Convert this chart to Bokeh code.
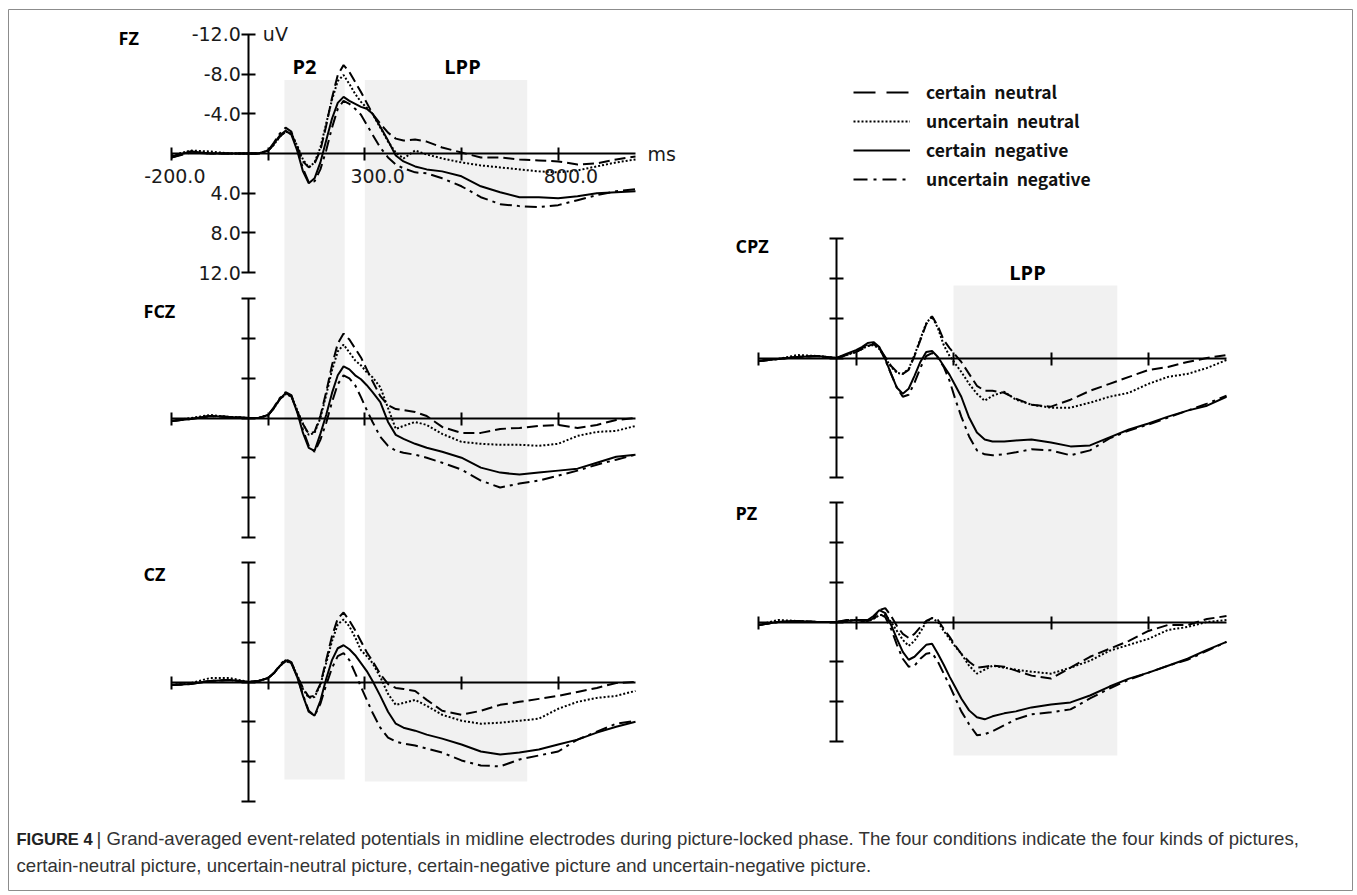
from bokeh.plotting import figure
from bokeh.models import Range1d, LinearAxis, FixedTicker, Legend, LegendItem, CustomJSTickFormatter
from bokeh.core.properties import value
from bokeh.embed import file_html
from bokeh.resources import INLINE

# ---------------- data ----------------
TIME = [-200, -150, -100, -50, 0, 25, 50, 65, 80, 95, 110, 125, 140, 155, 170, 185, 200, 215, 230, 245,
        260, 275, 290, 305, 320, 340, 360, 380, 400, 430, 460, 500, 550, 600, 650, 700, 750, 800, 850, 900,
        950, 1000]

CONDITIONS = ["certain  neutral", "uncertain  neutral", "certain  negative", "uncertain  negative"]
PANELS = ["FZ", "FCZ", "CZ", "CPZ", "PZ"]

FZ_CN = [0.4, -0.2, 0.0, 0.0, 0.0, 0.0, -0.3, -0.9, -1.7, -2.2, -2.0, -0.7, 0.8, 1.4, 1.0, -0.3, -2.8, -5.6, -7.9, -8.9,
         -8.2, -7.2, -6.2, -5.1, -4.0, -3.0, -2.1, -1.5, -1.3, -1.4, -1.2, -0.6, -0.1, 0.4, 0.4, 0.6, 0.7, 0.8, 1.1, 1.0, 0.6, 0.3]
FZ_UN = [0.2, -0.3, -0.2, 0.0, 0.0, 0.0, -0.3, -0.9, -1.7, -2.2, -2.0, -0.8, 0.6, 1.4, 0.9, -0.6, -3.0, -5.4, -7.3, -7.9,
         -7.0, -6.0, -5.2, -4.6, -4.0, -2.6, -1.2, -0.1, 0.5, -0.3, 0.1, 0.5, 0.9, 1.2, 1.4, 1.6, 1.8, 1.9, 1.7, 1.3, 0.9, 0.6]
FZ_CG = [0.3, -0.2, 0.0, 0.0, 0.0, 0.0, -0.3, -1.0, -1.8, -2.3, -1.9, -0.3, 1.8, 3.0, 2.5, 0.9, -1.3, -3.5, -5.1, -5.7,
         -5.3, -5.0, -4.7, -4.5, -4.0, -2.7, -1.3, 0.2, 0.8, 1.3, 1.6, 1.8, 2.3, 3.3, 3.9, 4.4, 4.4, 4.5, 4.3, 4.0, 3.9, 3.8]
FZ_UG = [0.4, -0.1, 0.0, 0.0, 0.0, 0.0, -0.3, -1.1, -2.0, -2.6, -2.2, -0.5, 1.5, 2.9, 2.8, 1.6, -0.3, -2.6, -4.5, -5.3,
         -5.0, -4.5, -3.9, -2.9, -1.9, -0.6, 0.4, 1.1, 1.5, 1.9, 2.0, 2.5, 3.3, 4.4, 5.1, 5.3, 5.4, 5.2, 4.7, 4.2, 3.8, 3.6]

FCZ_CN = [0.3, 0.1, -0.2, -0.1, 0.0, 0.0, -0.3, -1.0, -1.9, -2.4, -2.2, -0.7, 0.6, 1.6, 1.4, -0.2, -2.6, -5.3, -7.5, -8.5,
          -7.9, -7.0, -6.1, -4.9, -3.7, -2.2, -1.3, -0.9, -0.8, -0.6, -0.2, 0.9, 1.5, 1.5, 1.1, 1.0, 0.8, 0.7, 1.0, 0.7, 0.2, 0.0]
FCZ_UN = [0.3, 0.0, -0.3, -0.1, 0.0, 0.0, -0.3, -1.0, -1.9, -2.4, -2.2, -0.8, 0.6, 1.7, 1.5, 0.0, -2.3, -4.8, -6.7, -7.4,
          -6.6, -5.8, -5.3, -4.6, -4.1, -3.1, -1.0, 1.1, 0.8, 0.4, 0.7, 1.6, 2.4, 2.6, 2.7, 2.7, 2.8, 2.6, 1.8, 1.4, 1.3, 0.8]
FCZ_CG = [0.3, 0.1, -0.2, -0.1, 0.0, 0.0, -0.3, -1.0, -1.9, -2.5, -2.2, -0.6, 1.5, 3.0, 3.3, 1.6, -0.3, -2.5, -4.3, -5.2,
          -4.9, -4.3, -3.9, -3.3, -2.6, -1.6, 0.4, 1.7, 2.1, 2.6, 3.0, 3.4, 4.0, 5.0, 5.5, 5.7, 5.5, 5.3, 5.1, 4.5, 3.9, 3.7]
FCZ_UG = [0.3, 0.1, -0.2, -0.1, 0.0, 0.0, -0.3, -1.1, -2.0, -2.6, -2.3, -0.7, 1.2, 2.8, 3.4, 2.2, 0.5, -1.6, -3.4, -4.3,
          -4.0, -3.3, -2.1, -0.8, 0.4, 1.9, 2.8, 3.3, 3.5, 3.7, 4.0, 4.5, 5.2, 6.3, 7.0, 6.6, 6.3, 5.8, 5.3, 4.7, 4.2, 3.7]

CZ_CN = [0.3, 0.2, -0.1, -0.2, 0.0, -0.1, -0.4, -0.9, -1.6, -2.1, -1.9, -0.6, 0.6, 1.5, 1.4, 0.2, -2.2, -4.6, -6.4, -7.0,
         -6.2, -5.2, -4.1, -3.0, -2.1, -0.8, 0.2, 0.6, 0.7, 0.9, 1.8, 2.9, 3.3, 2.9, 2.3, 2.0, 1.7, 1.4, 1.0, 0.6, 0.1, 0.0]
CZ_UN = [0.3, 0.1, -0.4, -0.4, 0.0, -0.1, -0.4, -0.9, -1.6, -2.1, -1.9, -0.7, 0.7, 1.6, 1.5, 0.3, -1.9, -4.1, -5.8, -6.3,
         -5.6, -4.5, -3.2, -2.6, -1.9, -0.5, 1.2, 2.3, 2.1, 1.8, 2.4, 3.3, 3.9, 4.2, 4.1, 3.9, 3.7, 2.7, 2.0, 1.6, 1.4, 0.9]
CZ_CG = [0.3, 0.2, -0.1, -0.2, 0.0, -0.1, -0.4, -0.9, -1.6, -2.2, -1.9, -0.5, 1.4, 3.0, 3.4, 1.9, -0.3, -2.2, -3.4, -3.7,
         -3.3, -2.7, -1.9, -1.1, -0.1, 1.4, 3.0, 4.2, 4.6, 4.9, 5.3, 5.7, 6.3, 7.0, 7.3, 7.1, 6.8, 6.3, 5.8, 5.1, 4.5, 4.0]
CZ_UG = [0.3, 0.2, -0.1, -0.2, 0.0, -0.1, -0.4, -0.9, -1.7, -2.3, -2.0, -0.6, 1.3, 2.9, 3.4, 2.2, 0.3, -1.4, -2.6, -2.9,
         -2.2, -0.9, 0.5, 1.8, 3.1, 4.6, 5.6, 6.0, 6.2, 6.4, 6.7, 7.1, 7.9, 8.4, 8.5, 7.8, 7.4, 7.0, 5.8, 5.0, 4.2, 3.9]

CPZ_CN = [0.3, 0.1, -0.1, -0.2, 0.0, -0.3, -0.6, -0.9, -1.2, -1.4, -1.0, -0.1, 0.8, 1.4, 1.6, 1.2, -0.2, -1.8, -3.4, -4.2,
          -3.2, -1.8, -1.0, -0.3, 0.4, 1.6, 2.8, 3.3, 3.3, 3.5, 4.1, 4.7, 4.9, 4.2, 3.3, 2.6, 1.9, 1.2, 0.9, 0.4, 0.0, -0.3]
CPZ_UN = [0.3, 0.1, -0.3, -0.2, 0.0, -0.3, -0.6, -0.9, -1.2, -1.3, -0.9, 0.0, 0.9, 1.5, 1.6, 1.1, -0.3, -1.9, -3.5, -4.2,
          -3.0, -1.3, -0.2, 0.6, 1.4, 2.6, 3.6, 4.3, 3.8, 3.4, 4.2, 4.7, 5.0, 5.0, 4.5, 3.9, 3.5, 2.6, 1.9, 1.6, 1.0, 0.2]
CPZ_CG = [0.3, 0.1, -0.1, -0.2, 0.0, -0.4, -0.8, -1.1, -1.5, -1.6, -1.1, 0.1, 1.6, 3.0, 3.6, 3.1, 1.8, 0.4, -0.6, -0.7,
          -0.1, 0.8, 1.7, 2.8, 3.9, 6.0, 7.5, 8.2, 8.4, 8.4, 8.3, 8.2, 8.5, 8.9, 8.8, 8.0, 7.2, 6.6, 5.9, 5.3, 4.8, 3.9]
CPZ_UG = [0.3, 0.1, -0.1, -0.2, 0.0, -0.3, -0.7, -1.0, -1.4, -1.5, -1.0, 0.2, 1.6, 3.0, 3.9, 3.7, 2.5, 1.0, -0.2, -0.5,
          0.0, 0.9, 2.3, 4.2, 5.9, 7.9, 9.3, 9.7, 9.8, 9.7, 9.5, 9.2, 9.3, 9.8, 9.3, 8.1, 7.3, 6.7, 6.0, 5.3, 4.6, 3.8]

PZ_CN = [0.3, 0.0, -0.1, 0.0, 0.0, -0.2, -0.2, -0.1, 0.0, -0.4, -1.2, -1.4, -0.6, 0.4, 1.2, 1.6, 1.2, 0.5, -0.1, -0.4,
         -0.2, 0.7, 1.5, 2.4, 3.2, 4.0, 4.6, 4.5, 4.4, 4.5, 4.9, 5.4, 5.7, 4.6, 3.5, 2.7, 1.9, 0.9, 0.3, 0.3, -0.3, -0.6]
PZ_UN = [0.3, -0.2, -0.1, 0.0, 0.0, -0.1, -0.2, -0.2, -0.1, -0.3, -0.7, -0.7, 0.0, 0.9, 1.8, 2.4, 1.9, 1.0, 0.0, -0.4,
         0.0, 0.9, 1.7, 2.5, 3.2, 4.4, 5.2, 4.8, 4.4, 4.6, 4.8, 5.0, 5.2, 4.6, 3.9, 2.9, 2.3, 1.7, 0.8, 0.5, 0.0, -0.2]
PZ_CG = [0.3, 0.0, -0.1, 0.0, 0.0, -0.1, -0.2, -0.2, -0.2, -0.6, -1.2, -0.9, 0.3, 1.7, 3.0, 3.8, 3.5, 2.9, 2.3, 2.2,
         3.2, 4.3, 5.5, 6.6, 7.7, 8.9, 9.6, 9.8, 9.5, 9.2, 9.0, 8.6, 8.3, 8.1, 7.4, 6.5, 5.7, 5.1, 4.4, 3.7, 2.8, 2.0]
PZ_UG = [0.3, 0.0, -0.1, 0.0, 0.0, -0.1, -0.2, -0.2, -0.1, -0.3, -0.8, -0.5, 0.7, 2.3, 3.7, 4.5, 4.4, 3.7, 3.2, 3.1,
         4.0, 5.2, 6.4, 7.7, 9.0, 10.3, 11.4, 11.3, 11.0, 10.4, 9.8, 9.3, 9.1, 8.8, 7.7, 6.7, 5.8, 5.1, 4.4, 3.8, 2.9, 2.0]

SERIES = {
    "FZ": [FZ_CN, FZ_UN, FZ_CG, FZ_UG],
    "FCZ": [FCZ_CN, FCZ_UN, FCZ_CG, FCZ_UG],
    "CZ": [CZ_CN, CZ_UN, CZ_CG, CZ_UG],
    "CPZ": [CPZ_CN, CPZ_UN, CPZ_CG, CPZ_UG],
    "PZ": [PZ_CN, PZ_UN, PZ_CG, PZ_UG],
}

P2_WINDOW = (92, 248)
LPP_WINDOW = (300, 720)
X_TICKS = [-200, 50, 300, 550, 800]
X_LABEL_TICKS = [-200, 300, 800]
X_LABELS = ["-200.0", "300.0", "800.0"]
Y_TICKS = [-12, -8, -4, 0, 4, 8, 12]
Y_LABELS = ["-12.0", "-8.0", "-4.0", "", "4.0", "8.0", "12.0"]
CAPTION_BOLD = "FIGURE 4"
CAPTION_1 = ("| Grand-averaged event-related potentials in midline electrodes during picture-locked phase. "
             "The four conditions indicate the four kinds of pictures,")
CAPTION_2 = ("certain-neutral picture, uncertain-neutral picture, certain-negative picture and "
             "uncertain-negative picture.")

# ---------------- layout (page pixels) ----------------
W, H = 1357, 895
COLUMN_X = {"left": (171, 635), "right": (758, 1226)}   # page x of -200 ms and 1000 ms
PANEL_COLUMN = {"FZ": "left", "FCZ": "left", "CZ": "left", "CPZ": "right", "PZ": "right"}
PANEL_ZERO = {"FZ": 153, "FCZ": 417.5, "CZ": 681.5, "CPZ": 357.5, "PZ": 621.5}
UV_PX = 9.93
DASHES = ["11 5", "2 2", "solid", "12 5 3 5"]
LEGEND_DASHES = ["22 11", "2 2", "solid", "14 6 3 6"]
X_LABEL_OFFSETS = [34, 40, 40]
AXIS_FONT = "DejaVu Sans"
TEXT_COLOR = "#1a1a1a"
NAN = float("nan")

p = figure(width=W, height=H, x_range=Range1d(0, W), y_range=Range1d(H, 0),
           x_axis_type=None, y_axis_type=None, min_border=0,
           toolbar_location=None, output_backend="svg", outline_line_color=None)
p.background_fill_color = "white"

extra_x = {}
for col, (x0, x1) in COLUMN_X.items():
    s = (x1 - x0) / 1200.0
    start = -200 - x0 / s
    extra_x[col] = Range1d(start, start + W / s)
p.extra_x_ranges = extra_x

extra_y = {}
for name in PANELS:
    z = PANEL_ZERO[name]
    extra_y[name] = Range1d((H - z) / UV_PX, -z / UV_PX)
p.extra_y_ranges = extra_y

# figure frame
p.quad(left=[8], right=[1352], top=[9], bottom=[890], fill_color=None,
       line_color="#8c8c8c", line_width=1)

# shaded windows (vertical extent in page px)
SHADE = "#f1f1f1"
p.quad(left=[P2_WINDOW[0], LPP_WINDOW[0]], right=[P2_WINDOW[1], LPP_WINDOW[1]],
       top=[79.5, 79.5], bottom=[779, 781],
       x_range_name="left", fill_color=SHADE, line_color=None)
p.quad(left=[LPP_WINDOW[0]], right=[LPP_WINDOW[1]], top=[285], bottom=[755],
       x_range_name="right", fill_color=SHADE, line_color=None)

blank = CustomJSTickFormatter(code="return ''")
for name in PANELS:
    col = PANEL_COLUMN[name]
    xa = LinearAxis(x_range_name=col, y_range_name=name, fixed_location=0, bounds=(-200, 1000),
                    ticker=FixedTicker(ticks=X_TICKS), formatter=blank,
                    axis_line_width=2, major_tick_line_width=2, major_tick_in=6, major_tick_out=7,
                    minor_tick_line_color=None, axis_line_color="black", major_tick_line_color="black")
    p.add_layout(xa, "below")
    ya = LinearAxis(x_range_name=col, y_range_name=name, fixed_location=0, bounds=(-12, 12),
                    ticker=FixedTicker(ticks=Y_TICKS),
                    axis_line_width=2, major_tick_line_width=2, major_tick_in=7, major_tick_out=7,
                    minor_tick_line_color=None, axis_line_color="black", major_tick_line_color="black",
                    major_label_standoff=1,
                    major_label_text_font=AXIS_FONT, major_label_text_font_size="19px",
                    major_label_text_color=TEXT_COLOR)
    if name == "FZ":
        ya.major_label_overrides = {t: l for t, l in zip(Y_TICKS, Y_LABELS)}
    else:
        ya.formatter = blank
    p.add_layout(ya, "left")
    for vals, dash in zip(SERIES[name], DASHES):
        p.line(TIME, vals, x_range_name=col, y_range_name=name,
               line_color="black", line_width=2, line_dash=dash)

# legend-only renderers (a single undefined point) carrying the legend's dash patterns
legend_renderers = [p.line(x=[NAN], y=[NAN], line_color="black", line_width=2, line_dash=d)
                    for d in LEGEND_DASHES]

# FZ x tick labels and units
p.text(x=X_LABEL_TICKS, y=[0] * 3, text=X_LABELS, x_range_name="left", y_range_name="FZ",
       x_offset=X_LABEL_OFFSETS, y_offset=22, text_align="right", text_baseline="middle",
       text_font=value(AXIS_FONT), text_font_size="19px", text_color=TEXT_COLOR)
p.text(x=[0], y=[-12], text=["uV"], x_range_name="left", y_range_name="FZ",
       x_offset=14, text_align="left", text_baseline="middle",
       text_font=value(AXIS_FONT), text_font_size="19px", text_color=TEXT_COLOR)
p.text(x=[1000], y=[0], text=["ms"], x_range_name="left", y_range_name="FZ",
       x_offset=12, text_align="left", text_baseline="middle",
       text_font=value(AXIS_FONT), text_font_size="19px", text_color=TEXT_COLOR)

# panel names and window names (page px)
NAME_POS = {"FZ": (118, 37), "FCZ": (143, 310), "CZ": (143, 573), "CPZ": (735, 245), "PZ": (735, 512)}
p.text(x=[NAME_POS[n][0] for n in PANELS], y=[NAME_POS[n][1] for n in PANELS], text=PANELS,
       text_align="left", text_baseline="middle", text_font=value("Open Sans"), text_font_style="bold",
       text_font_size="18px", text_color="black")
p.text(x=[304, 462, 1027], y=[66, 66, 272], text=["P2", "LPP", "LPP"],
       text_align="center", text_baseline="middle", text_font=value("Open Sans"), text_font_style="bold",
       text_font_size="20px", text_color="black")

# caption
p.text(x=[16], y=[838], text=[CAPTION_BOLD], text_align="left", text_baseline="middle",
       text_font=value("Liberation Sans"), text_font_style="bold", text_font_size="16.5px", text_color="#222222")
p.text(x=[96], y=[838], text=[CAPTION_1], text_align="left", text_baseline="middle",
       text_font=value("Liberation Sans"), text_font_size="18.6px", text_color="#333333")
p.text(x=[16], y=[865], text=[CAPTION_2], text_align="left", text_baseline="middle",
       text_font=value("Liberation Sans"), text_font_size="18.6px", text_color="#333333")

legend = Legend(items=[LegendItem(label=c, renderers=[r]) for c, r in zip(CONDITIONS, legend_renderers)],
                location=(853, H - 191), glyph_width=57, glyph_height=20, label_height=20, spacing=4,
                label_standoff=16, padding=0, margin=0, border_line_alpha=0, background_fill_alpha=0,
                label_text_font="Noto Sans CJK SC", label_text_font_style="bold",
                label_text_font_size="17.5px", label_text_color="#111111")
p.add_layout(legend, "center")

open("out.html", "w").write(file_html(p, INLINE))
